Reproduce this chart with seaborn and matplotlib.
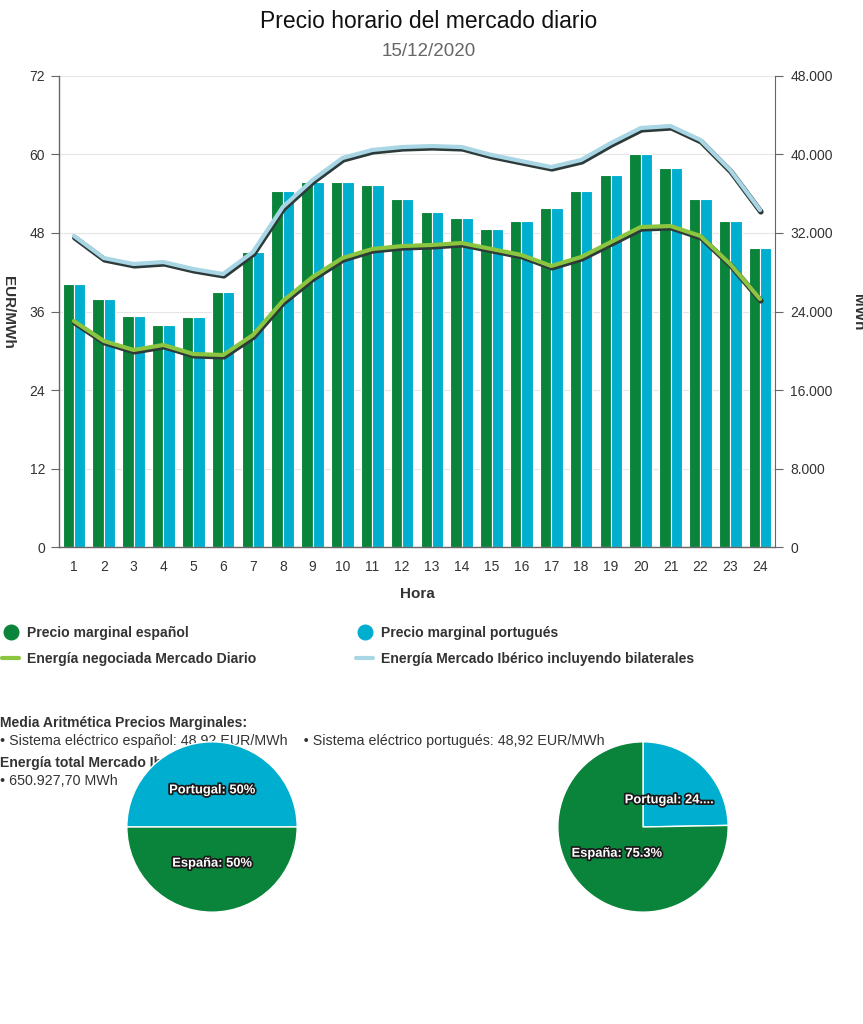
import numpy as np
import pandas as pd
import matplotlib
matplotlib.use('Agg')
import matplotlib.pyplot as plt
import matplotlib.patheffects as pe
from matplotlib.lines import Line2D
import seaborn as sns

## Datos
horas = list(range(1, 25))
precio_es = [40.2, 37.9, 35.3, 33.9, 35.2, 39.0, 45.1, 54.4, 55.8, 55.8, 55.3, 53.2,
             51.2, 50.3, 48.6, 49.8, 51.8, 54.4, 56.9, 60.1, 57.9, 53.2, 49.8, 45.7]
precio_pt = [40.2, 37.9, 35.3, 33.9, 35.2, 39.0, 45.1, 54.4, 55.8, 55.8, 55.3, 53.2,
             51.2, 50.3, 48.6, 49.8, 51.8, 54.4, 56.9, 60.1, 57.9, 53.2, 49.8, 45.7]
energia_diario = [23030, 21000, 20080, 20590, 19670, 19570, 21600, 25070, 27510, 29450, 30370, 30670,
                  30780, 30980, 30370, 29760, 28640, 29550, 31080, 32610, 32710, 31700, 28840, 25270]
energia_iberico = [31700, 29450, 28840, 29040, 28330, 27820, 30060, 34650, 37400, 39640, 40460, 40760,
                   40860, 40760, 39950, 39330, 38720, 39440, 41170, 42700, 42900, 41480, 38420, 34340]

pie_nombres = ['Portugal', 'España']
pie_precio = [50, 50]
pie_precio_labels = ['Portugal: 50%', 'España: 50%']
pie_energia = [24.7, 75.3]
pie_energia_labels = ['Portugal: 24....', 'España: 75.3%']

VERDE = '#09843a'
CIAN = '#00aed0'
VERDE_LINEA = '#8cc540'
AZUL_LINEA = '#a9d6e5'
GRIS = '#333333'

sns.set_style('white')
plt.rcParams['font.family'] = ['Liberation Sans', 'DejaVu Sans']

df_precio = pd.DataFrame({
    'Hora': horas * 2,
    'precio': precio_es + precio_pt,
    'serie': ['Precio marginal español'] * 24 + ['Precio marginal portugués'] * 24,
})
pos = np.arange(len(horas))
df_energia = pd.DataFrame({
    'pos': np.concatenate([pos, pos]),
    'valor': energia_diario + energia_iberico,
    'serie': ['Energía negociada Mercado Diario'] * 24 + ['Energía Mercado Ibérico incluyendo bilaterales'] * 24,
})

fig = plt.figure(figsize=(8.63, 10.24), dpi=100)
ax = fig.add_axes([0.0684, 0.4658, 0.8296, 0.46])

sns.barplot(data=df_precio, x='Hora', y='precio', hue='serie', palette=[VERDE, CIAN],
            width=0.76, edgecolor='white', linewidth=0.8, ax=ax, legend=False, saturation=1)
ax.set_xlim(-0.5, 23.5)
ax.set_ylim(0, 72)
ax.set_yticks(np.arange(0, 73, 12))
ax.yaxis.grid(True, color='#e6e6e6', linewidth=0.8)
ax.set_axisbelow(True)
ax.set_xticks(pos)
ax.set_xticklabels([str(h) for h in horas])
ax.set_xticks(np.arange(-0.5, 24, 1), minor=True)
ax.tick_params(axis='x', which='major', length=0, pad=9, labelsize=10, labelcolor=GRIS)
ax.tick_params(axis='x', which='minor', length=6, color='#666666', direction='out')
ax.tick_params(axis='y', length=6, color='#666666', labelsize=10, labelcolor=GRIS, pad=4)
for s in ['top', 'right']:
    ax.spines[s].set_visible(False)
for s in ['left', 'bottom']:
    ax.spines[s].set_color('#666666')
    ax.spines[s].set_linewidth(1)
ax.set_xlabel('Hora', fontsize=11, fontweight='bold', color=GRIS, labelpad=10)
ax.set_ylabel('')

ax2 = ax.twinx()
sombra = [pe.Stroke(linewidth=4, foreground='#2d3a3a', offset=(0.6, -1.3)), pe.Normal()]
sns.lineplot(data=df_energia, x='pos', y='valor', hue='serie', palette=[VERDE_LINEA, AZUL_LINEA],
             linewidth=3, ax=ax2, legend=False)
for ln in ax2.lines:
    ln.set_path_effects(sombra)
    ln.set_solid_capstyle('round')
ax2.set_ylim(0, 48000)
ax2.set_yticks(np.arange(0, 48001, 8000))
ax2.set_yticklabels([f'{int(v):,}'.replace(',', '.') for v in np.arange(0, 48001, 8000)])
ax2.tick_params(axis='y', length=6, color='#666666', labelsize=10, labelcolor=GRIS, pad=5)
ax2.set_ylabel('')
ax2.set_xlabel('')
for s in ['top', 'left', 'bottom']:
    ax2.spines[s].set_visible(False)
ax2.spines['right'].set_color('#666666')

fig.text(8 / 863, 1 - 312 / 1024, 'EUR/MWh', rotation=270, ha='center', va='center',
         fontsize=11, fontweight='bold', color=GRIS)
fig.text(858 / 863, 1 - 312 / 1024, 'MWh', rotation=270, ha='center', va='center',
         fontsize=11, fontweight='bold', color=GRIS)

fig.text(0.497, 1 - 21 / 1024, 'Precio horario del mercado diario', ha='center', va='center',
         fontsize=16.5, color='#111111')
fig.text(0.497, 1 - 51 / 1024, '15/12/2020', ha='center', va='center', fontsize=13.5, color='#666666')

## Leyenda
handles = [
    Line2D([], [], marker='o', linestyle='none', markersize=10.5, color=VERDE),
    Line2D([], [], color=VERDE_LINEA, linewidth=3),
    Line2D([], [], marker='o', linestyle='none', markersize=10.5, color=CIAN),
    Line2D([], [], color=AZUL_LINEA, linewidth=3),
]
labels = ['Precio marginal español', 'Energía negociada Mercado Diario',
          'Precio marginal portugués', 'Energía Mercado Ibérico incluyendo bilaterales']
leg = fig.legend(handles, labels, loc='upper left', bbox_to_anchor=(-0.012, 1 - 613 / 1024), ncol=2,
                 frameon=False, handlelength=1.2, handletextpad=0.55, columnspacing=7.15,
                 labelspacing=0.9, prop={'weight': 'bold', 'size': 10.1})
for t in leg.get_texts():
    t.set_color(GRIS)

## Texto de resumen
fig.text(0.0, 1 - 723 / 1024, 'Media Aritmética Precios Marginales:', fontsize=10.1, fontweight='bold',
         color=GRIS, va='center')
fig.text(0.0, 1 - 741 / 1024,
         '• Sistema eléctrico español: 48,92 EUR/MWh    • Sistema eléctrico portugués: 48,92 EUR/MWh',
         fontsize=10.3, color=GRIS, va='center')
fig.text(0.0, 1 - 763 / 1024, 'Energía total Mercado Ibérico:', fontsize=10.1, fontweight='bold',
         color=GRIS, va='center')
fig.text(0.0, 1 - 781 / 1024, '• 650.927,70 MWh', fontsize=10.3, color=GRIS, va='center')

## Tartas
contorno = [pe.withStroke(linewidth=2.5, foreground='#1a1a1a')]
for left, vals, labs, start, dist in [(126 / 863, pie_precio, pie_precio_labels, 180, 0.43),
                                      (557 / 863, pie_energia, pie_energia_labels, 90, 0.44)]:
    axp = fig.add_axes([left, 1 - 913 / 1024, 172 / 863, 172 / 1024], zorder=5)
    wedges, texts = axp.pie(vals, labels=labs, colors=[CIAN, VERDE], startangle=start,
                            counterclock=False, labeldistance=dist,
                            wedgeprops={'edgecolor': 'white', 'linewidth': 1},
                            textprops={'color': 'white', 'fontweight': 'bold', 'fontsize': 9.3})
    for t in texts:
        t.set_ha('center')
        t.set_path_effects(contorno)
    axp.set_xlim(-1.01, 1.01)
    axp.set_ylim(-1.01, 1.01)
    axp.axis('off')

fig.savefig('out.png', dpi=100, facecolor='white')
